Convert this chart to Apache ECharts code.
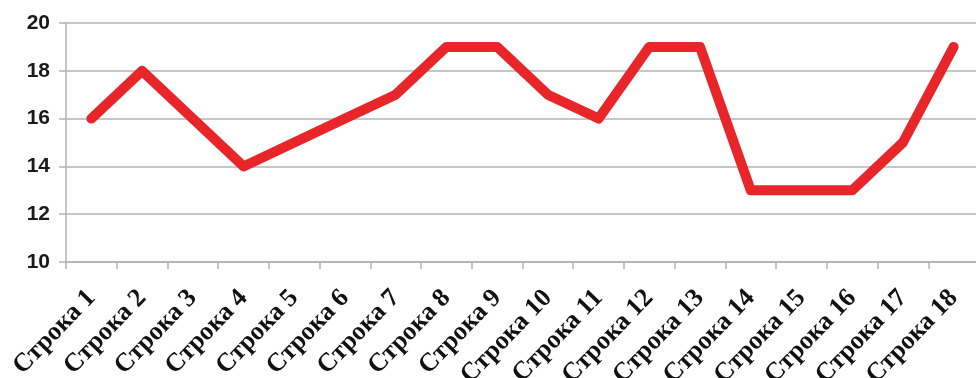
<!DOCTYPE html>
<html>
<head>
<meta charset="utf-8">
<script src="https://cdn.jsdelivr.net/npm/echarts@6/dist/echarts.min.js"></script>
<style>
  html, body { margin: 0; padding: 0; background: #ffffff; }
  #chart { width: 976px; height: 378px; }
</style>
</head>
<body>
<div id="chart"></div>
<script>
// Row names along the horizontal axis
const categories = [
  'Строка 1', 'Строка 2', 'Строка 3', 'Строка 4', 'Строка 5', 'Строка 6',
  'Строка 7', 'Строка 8', 'Строка 9', 'Строка 10', 'Строка 11', 'Строка 12',
  'Строка 13', 'Строка 14', 'Строка 15', 'Строка 16', 'Строка 17', 'Строка 18'
];
// Value for each row
const values = [16, 18, 16, 14, 15, 16, 17, 19, 19, 17, 16, 19, 19, 13, 13, 13, 15, 19];
// Vertical scale
const yMin = 10;
const yMax = 20;
const yStep = 2;

const chart = echarts.init(document.getElementById('chart'), null, { renderer: 'canvas' });
chart.setOption({
  animation: false,
  backgroundColor: '#ffffff',
  grid: {
    left: 66, right: -3, top: 23, bottom: 116,
    containLabel: false,
    outerBoundsMode: 'none'
  },
  xAxis: {
    type: 'category',
    data: categories,
    boundaryGap: true,
    axisLine: { show: true, lineStyle: { color: '#b3b3b3', width: 1.5 } },
    axisTick: { show: true, length: 7, lineStyle: { color: '#b3b3b3', width: 1.5 } },
    axisLabel: {
      interval: 0,
      rotate: 46,
      margin: 32,
      fontFamily: '"Liberation Serif", "DejaVu Serif", serif',
      fontWeight: 'bold',
      fontSize: 26,
      color: '#111111'
    }
  },
  yAxis: {
    type: 'value',
    min: yMin,
    max: yMax,
    interval: yStep,
    axisLine: { show: true, lineStyle: { color: '#b3b3b3', width: 1.5 } },
    axisTick: { show: true, length: 7, lineStyle: { color: '#b3b3b3', width: 1.5 } },
    splitLine: { show: true, lineStyle: { color: '#b3b3b3', width: 1.5 } },
    axisLabel: {
      margin: 16,
      fontFamily: '"Liberation Sans", Arial, sans-serif',
      fontWeight: 'bold',
      fontSize: 21,
      color: '#1a1a1a'
    }
  },
  series: [{
    type: 'line',
    data: values,
    symbol: 'none',
    lineStyle: { color: '#e8262a', width: 10, cap: 'round', join: 'round' }
  }]
});
</script>
</body>
</html>
